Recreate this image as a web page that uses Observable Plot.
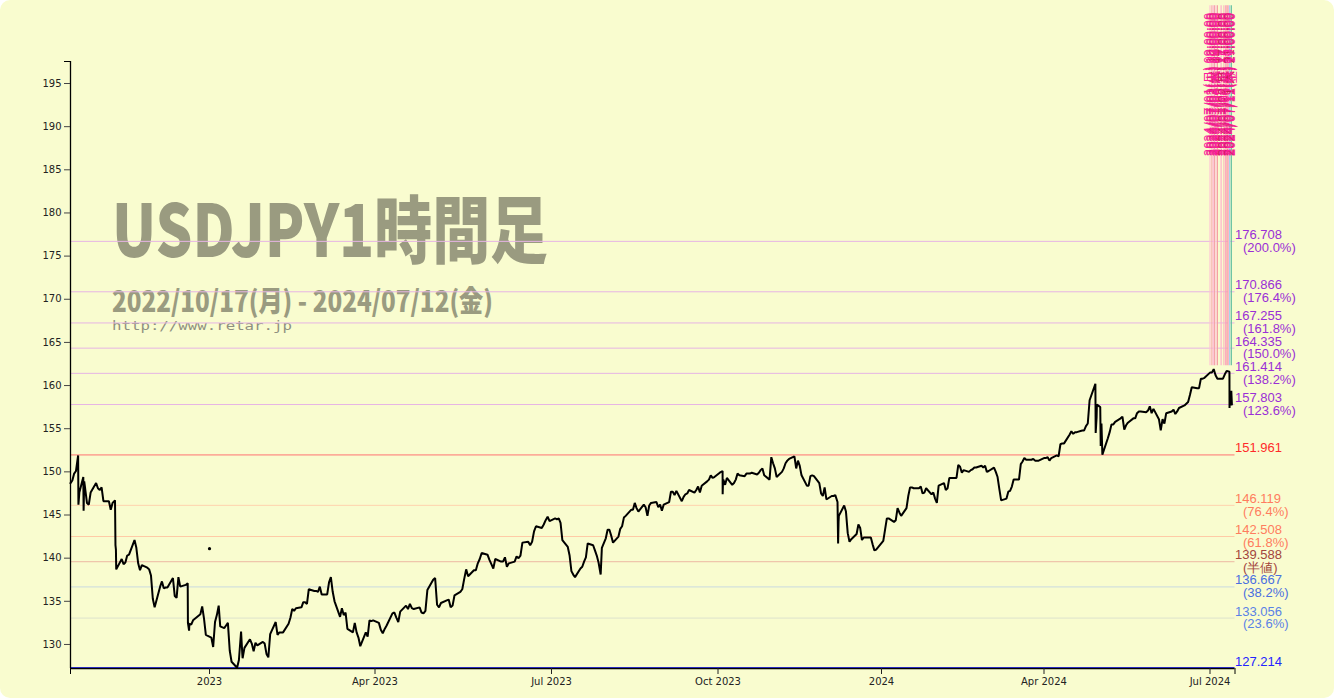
<!DOCTYPE html>
<html><head><meta charset="utf-8">
<script src="https://cdn.jsdelivr.net/npm/d3@7"></script>
<script src="https://cdn.jsdelivr.net/npm/@observablehq/plot@0.6"></script>
<style>
html,body{margin:0;padding:0;background:#ffffff;}
#chart{position:relative;width:1334px;height:698px;background:#f9fccf;border-radius:10px;overflow:hidden;}
</style></head><body><div id="chart"></div>
<script>
// ---- data ----
const priceData = [
["2022-10-17",148.7],["2022-10-18",149.0],["2022-10-19",149.8],["2022-10-20",150.1],["2022-10-21T04:00",151.9],["2022-10-21T08:00",146.2],["2022-10-21T20:00",147.6],["2022-10-24T00:00",149.4],["2022-10-24T04:00",145.5],["2022-10-24T12:00",148.9],["2022-10-25",148.1],["2022-10-26",146.4],["2022-10-27",146.2],["2022-10-28",147.6],["2022-10-31",148.7],["2022-11-01",148.1],["2022-11-02",147.9],["2022-11-03",148.2],["2022-11-04",146.6],["2022-11-07",146.6],["2022-11-08",145.6],["2022-11-09",146.4],["2022-11-10T08:00",146.7],["2022-11-10T14:00",141.5],["2022-11-10T20:00",141.0],["2022-11-11",138.7],["2022-11-14",139.9],["2022-11-15",139.3],["2022-11-16",139.5],["2022-11-17",140.3],["2022-11-18",140.4],["2022-11-21",142.1],["2022-11-22",141.2],["2022-11-23",139.4],["2022-11-24",138.6],["2022-11-25",139.2],["2022-11-28",138.9],["2022-11-29",138.7],["2022-11-30",138.0],["2022-12-01",135.3],["2022-12-02",134.3],["2022-12-05",136.7],["2022-12-06",137.3],["2022-12-07",136.5],["2022-12-08",136.6],["2022-12-09",136.6],["2022-12-12",137.7],["2022-12-13",135.6],["2022-12-14",135.4],["2022-12-15",137.8],["2022-12-16",136.7],["2022-12-19",136.9],["2022-12-20T02:00",137.1],["2022-12-20T05:00",132.5],["2022-12-20T20:00",131.6],["2022-12-21",132.4],["2022-12-22",132.3],["2022-12-23",132.8],["2022-12-27",133.5],["2022-12-28",134.4],["2022-12-29",133.0],["2022-12-30",131.1],
["2023-01-02",130.8],["2023-01-03",129.7],["2023-01-04",132.6],["2023-01-05",133.4],["2023-01-06",134.5],["2023-01-06T20:00",132.1],["2023-01-09",131.9],["2023-01-10",132.2],["2023-01-11",132.5],["2023-01-12",129.3],["2023-01-13",128.0],["2023-01-16",127.3],["2023-01-17",128.2],["2023-01-18T04:00",131.5],["2023-01-18T20:00",128.9],["2023-01-19",128.4],["2023-01-20",129.6],["2023-01-23",130.6],["2023-01-24",130.1],["2023-01-25",129.2],["2023-01-26",130.2],["2023-01-27",129.9],["2023-01-30",130.3],["2023-01-31",130.1],["2023-02-01",128.9],["2023-02-02",128.5],["2023-02-03",131.2],["2023-02-06",132.6],["2023-02-07",131.1],["2023-02-08",131.4],["2023-02-09",131.4],["2023-02-10",131.4],["2023-02-13",132.4],["2023-02-14",133.1],["2023-02-15",134.1],["2023-02-16",133.9],["2023-02-17",134.2],["2023-02-20",134.3],["2023-02-21",134.9],["2023-02-22",134.9],["2023-02-23",134.7],["2023-02-24",136.4],["2023-02-27",136.2],["2023-02-28",136.2],["2023-03-01",136.1],["2023-03-02",136.7],["2023-03-03",135.8],["2023-03-06",135.8],["2023-03-07",137.2],["2023-03-08",137.8],["2023-03-09",136.1],["2023-03-10",135.0],["2023-03-13",133.2],["2023-03-14",134.2],["2023-03-15",133.4],["2023-03-16",133.7],["2023-03-17",131.8],["2023-03-20",131.4],["2023-03-21",132.5],["2023-03-22",131.4],["2023-03-23",130.8],["2023-03-24",129.8],["2023-03-27",131.4],["2023-03-28",130.9],["2023-03-29",132.8],["2023-03-30",132.7],["2023-03-31",132.8],
["2023-04-03",132.5],["2023-04-04",131.7],["2023-04-05",131.3],["2023-04-06",131.8],["2023-04-07",132.2],["2023-04-10",133.6],["2023-04-11",133.7],["2023-04-12",133.1],["2023-04-13",132.6],["2023-04-14",133.8],["2023-04-17",134.5],["2023-04-18",134.1],["2023-04-19",134.7],["2023-04-20",134.2],["2023-04-21",134.1],["2023-04-24",134.3],["2023-04-25",133.7],["2023-04-26",133.6],["2023-04-27",133.9],["2023-04-28",136.3],["2023-05-01",137.5],["2023-05-02",137.7],["2023-05-03",134.6],["2023-05-04",134.3],["2023-05-05",134.8],["2023-05-08",135.1],["2023-05-09",135.2],["2023-05-10",134.3],["2023-05-11",134.5],["2023-05-12",135.7],["2023-05-15",136.1],["2023-05-16",136.4],["2023-05-17",137.6],["2023-05-18",138.7],["2023-05-19",137.9],["2023-05-22",138.6],["2023-05-23",138.6],["2023-05-24",139.4],["2023-05-25",139.9],["2023-05-26",140.6],["2023-05-29",140.4],["2023-05-30",139.8],["2023-05-31",139.3],["2023-06-01",138.8],["2023-06-02",139.9],["2023-06-05",139.6],["2023-06-06",139.6],["2023-06-07",140.1],["2023-06-08",139.0],["2023-06-09",139.4],["2023-06-12",139.6],["2023-06-13",140.2],["2023-06-14",140.0],["2023-06-15",140.3],["2023-06-16",141.8],["2023-06-19",141.9],["2023-06-20",141.5],["2023-06-21",141.9],["2023-06-22",143.1],["2023-06-23",143.7],["2023-06-26",143.5],["2023-06-27",143.9],["2023-06-28",144.4],["2023-06-29",144.8],["2023-06-30",144.3],["2023-07-03",144.6],["2023-07-04",144.5],["2023-07-05",144.6],["2023-07-06",144.1],["2023-07-07",142.1],["2023-07-10",141.3],["2023-07-11",140.3],["2023-07-12",138.5],["2023-07-13",138.1],["2023-07-14",137.8],["2023-07-17",138.8],["2023-07-18",139.0],["2023-07-19",139.6],["2023-07-20",140.1],["2023-07-21",141.7],["2023-07-24",141.5],["2023-07-25",140.9],["2023-07-26",140.3],["2023-07-27",139.5],["2023-07-28T04:00",138.1],["2023-07-28T20:00",141.2],["2023-07-31",142.3],["2023-08-01",143.3],["2023-08-02",143.3],["2023-08-03",142.6],["2023-08-04",141.8],["2023-08-07",142.5],["2023-08-08",143.4],["2023-08-09",143.7],["2023-08-10",144.7],["2023-08-11",144.9],["2023-08-14",145.6],["2023-08-15",145.6],["2023-08-16",146.4],["2023-08-17",145.8],["2023-08-18",145.4],["2023-08-21",146.2],["2023-08-22",145.9],["2023-08-23",144.9],["2023-08-24",146.1],["2023-08-25",146.4],["2023-08-28",146.5],["2023-08-29",145.9],["2023-08-30",146.2],["2023-08-31",145.5],["2023-09-01",146.2],["2023-09-04",146.5],["2023-09-05",147.7],["2023-09-06",147.7],["2023-09-07",147.3],["2023-09-08",147.8],["2023-09-11",146.6],["2023-09-12",147.1],["2023-09-13",147.4],["2023-09-14",147.5],["2023-09-15",147.9],["2023-09-18",147.6],["2023-09-19",147.9],["2023-09-20",148.3],["2023-09-21",147.6],["2023-09-22",148.4],["2023-09-25",148.9],["2023-09-26",149.1],["2023-09-27",149.6],["2023-09-28",149.3],["2023-09-29",149.4],
["2023-10-02",149.9],["2023-10-03T14:00",150.1],["2023-10-03T15:00",147.4],["2023-10-03T20:00",149.0],["2023-10-04",149.1],["2023-10-05",148.5],["2023-10-06",149.3],["2023-10-09",148.5],["2023-10-10",148.7],["2023-10-11",149.1],["2023-10-12",149.8],["2023-10-13",149.6],["2023-10-16",149.5],["2023-10-17",149.8],["2023-10-18",149.8],["2023-10-19",149.8],["2023-10-20",149.9],["2023-10-23",149.7],["2023-10-24",149.9],["2023-10-25",150.2],["2023-10-26",150.4],["2023-10-27",149.6],["2023-10-30",149.1],["2023-10-31",151.7],["2023-11-01",151.0],["2023-11-02",150.4],["2023-11-03",149.4],["2023-11-06",150.0],["2023-11-07",150.4],["2023-11-08",151.0],["2023-11-09",151.3],["2023-11-10",151.5],["2023-11-13",151.8],["2023-11-14",150.4],["2023-11-15",151.3],["2023-11-16",150.7],["2023-11-17",149.6],["2023-11-20",148.4],["2023-11-21",148.4],["2023-11-22",149.5],["2023-11-23",149.6],["2023-11-24",149.5],["2023-11-27",148.7],["2023-11-28",147.5],["2023-11-29",147.2],["2023-11-30",148.2],["2023-12-01",146.8],["2023-12-04",147.2],["2023-12-05",147.2],["2023-12-06",147.3],["2023-12-07T06:00",146.5],["2023-12-07T14:00",141.7],["2023-12-07T20:00",144.2],["2023-12-08",144.9],["2023-12-11",146.1],["2023-12-12",145.4],["2023-12-13",142.9],["2023-12-14",141.9],["2023-12-15",142.2],["2023-12-18",142.8],["2023-12-19",143.9],["2023-12-20",143.5],["2023-12-21",142.1],["2023-12-22",142.4],["2023-12-26",142.4],["2023-12-27",141.6],["2023-12-28",140.9],["2023-12-29",141.0],
["2024-01-02",142.0],["2024-01-03",143.3],["2024-01-04",144.6],["2024-01-05",144.6],["2024-01-08",144.2],["2024-01-09",144.4],["2024-01-10",145.8],["2024-01-11",145.3],["2024-01-12",144.9],["2024-01-15",145.8],["2024-01-16",147.2],["2024-01-17",148.2],["2024-01-18",148.2],["2024-01-19",148.1],["2024-01-22",148.1],["2024-01-23",148.3],["2024-01-24",147.5],["2024-01-25",147.6],["2024-01-26",148.1],["2024-01-29",147.4],["2024-01-30",147.6],["2024-01-31",146.9],["2024-02-01",146.4],["2024-02-02",148.4],["2024-02-05",148.7],["2024-02-06",147.9],["2024-02-07",148.1],["2024-02-08",149.3],["2024-02-09",149.3],["2024-02-12",149.3],["2024-02-13",150.8],["2024-02-14",150.6],["2024-02-15",149.9],["2024-02-16",150.2],["2024-02-19",150.0],["2024-02-20",150.2],["2024-02-21",150.3],["2024-02-22",150.5],["2024-02-23",150.5],["2024-02-26",150.7],["2024-02-27",150.5],["2024-02-28",150.7],["2024-02-29",150.0],["2024-03-01",150.1],["2024-03-04",150.5],["2024-03-05",150.0],["2024-03-06",149.4],["2024-03-07",148.0],["2024-03-08",146.7],["2024-03-11",146.9],["2024-03-12",147.7],["2024-03-13",147.8],["2024-03-14",148.3],["2024-03-15",149.1],["2024-03-18",149.1],["2024-03-19",150.9],["2024-03-20",151.2],["2024-03-21",151.6],["2024-03-22",151.4],["2024-03-25",151.4],["2024-03-26",151.5],["2024-03-27",151.3],["2024-03-28",151.3],["2024-03-29",151.3],
["2024-04-01",151.6],["2024-04-02",151.6],["2024-04-03",151.7],["2024-04-04",151.3],["2024-04-05",151.6],["2024-04-08",151.9],["2024-04-09",151.8],["2024-04-10",153.2],["2024-04-11",153.3],["2024-04-12",153.3],["2024-04-15",154.3],["2024-04-16",154.7],["2024-04-17",154.4],["2024-04-18",154.6],["2024-04-19",154.6],["2024-04-22",154.8],["2024-04-23",154.8],["2024-04-24",155.3],["2024-04-25",155.6],["2024-04-26",158.3],["2024-04-29T04:00",160.2],["2024-04-29T08:00",154.5],["2024-04-29T20:00",156.3],["2024-04-30",157.8],["2024-05-01T20:00",157.5],["2024-05-02T02:00",153.0],["2024-05-02T12:00",155.6],["2024-05-03",152.0],["2024-05-06",153.9],["2024-05-07",154.6],["2024-05-08",155.5],["2024-05-09",155.5],["2024-05-10",155.8],["2024-05-13",156.2],["2024-05-14",156.4],["2024-05-15",154.9],["2024-05-16",155.4],["2024-05-17",155.7],["2024-05-20",156.2],["2024-05-21",156.2],["2024-05-22",156.8],["2024-05-23",157.0],["2024-05-24",157.0],["2024-05-27",156.9],["2024-05-28",157.1],["2024-05-29",157.6],["2024-05-30",156.8],["2024-05-31",157.3],["2024-06-03",156.1],["2024-06-04",154.8],["2024-06-05",156.1],["2024-06-06",155.6],["2024-06-07",156.8],["2024-06-10",157.0],["2024-06-11",157.2],["2024-06-12",156.7],["2024-06-13",157.0],["2024-06-14",157.4],["2024-06-17",157.7],["2024-06-18",157.9],["2024-06-19",158.1],["2024-06-20",158.9],["2024-06-21",159.8],["2024-06-24",159.7],["2024-06-25",159.7],["2024-06-26",160.8],["2024-06-27",160.8],["2024-06-28",160.9],["2024-07-01",161.5],["2024-07-02",161.5],["2024-07-03",161.9],["2024-07-04",161.2],["2024-07-05",160.8],["2024-07-08",160.8],["2024-07-09",161.3],["2024-07-10",161.7],["2024-07-11T12:00",161.6],["2024-07-11T13:00",157.4],["2024-07-11T20:00",158.9],["2024-07-12T04:00",157.7],["2024-07-12T12:00",159.4],["2024-07-12T20:00",157.8]
];
const strayPoint = [["2023-01-01T00:00",141.1]];

const fibLevels = [176.708,170.866,167.255,164.335,161.414,157.803,151.961,146.119,142.508,139.588,136.667,133.056,127.214];
const fibRatios = ["(200.0%)","(176.4%)","(161.8%)","(150.0%)","(138.2%)","(123.6%)","","(76.4%)","(61.8%)","(半値)","(38.2%)","(23.6%)",""];
const fibTextColors = ["#9a2fd6","#9a2fd6","#9a2fd6","#9a2fd6","#9a2fd6","#9a2fd6","#ff2a2a","#ff7d5e","#ff7d5e","#a3453d","#4a6fe0","#5a82e6","#2424ff"];
const fibLineColors = ["#e6b4e4","#e6b4e4","#e6b4e4","#e6b4e4","#e6b4e4","#e6b4e4","#ff7272","#ffd3ae","#ffcaa6","#ecb8a4","#cad9e0","#dde2cc","#3a3aff"];

const markerDates = ["2024-07-01T00:00","2024-07-02T00:00","2024-07-02T18:00","2024-07-03T12:00","2024-07-04T06:00","2024-07-05T00:00","2024-07-07T00:00","2024-07-08T12:00","2024-07-09T12:00","2024-07-10T06:00","2024-07-11T00:00","2024-07-11T14:00","2024-07-12T12:00"];
const markerLabels = ["2024/07/01(月) 09:00:00","2024/07/02(火) 10:00:00","2024/07/02(火) 22:00:00","2024/07/03(水) 16:00:00","2024/07/04(木) 09:00:00","2024/07/05(金) 04:00:00","2024/07/05(金) 21:00:00","2024/07/08(月) 17:00:00","2024/07/09(火) 15:00:00","2024/07/10(水) 11:00:00","2024/07/11(木) 06:00:00","2024/07/11(木) 21:00:00","2024/07/12(金) 17:00:00"];
const markerLineColors = ["#ffc4d6","#f7b2b2","#ffb8d8","#f2a6a6","#ffd0e0","#f4a2a2","#ffb0cc","#f8bcbc","#ff9cc0","#f0a0a0","#ffb4c8","#a8d8e8","#5fbf9f"];
const markerTextColors = ["#ff1aa0","#e8308a","#ff1aa0","#d02060","#ff1aa0","#e8308a","#ff1aa0","#d02060","#ff1aa0","#e8308a","#ff1aa0","#c02050","#ff1aa0"];

const yTicks = [130,135,140,145,150,155,160,165,170,175,180,185,190,195];
const xTickDates = ["2023-01-01","2023-04-01","2023-07-01","2023-10-01","2024-01-01","2024-04-01","2024-07-01"];
const xTickLabels = ["2023","Apr 2023","Jul 2023","Oct 2023","2024","Apr 2024","Jul 2024"];

const titleText = "USDJPY1時間足";
const subtitleText = "2022/10/17(月) - 2024/07/12(金)";
const urlText = "http://www.retar.jp";

// ---- build ----
const parse = s => new Date(s.length === 10 ? s + "T00:00:00Z" : s + ":00Z");
const prices = priceData.map(([d, v]) => ({date: parse(d), v}));
const stray = strayPoint.map(([d, v]) => ({date: parse(d), v}));
const fibs = fibLevels.map((v, i) => ({v, ratio: fibRatios[i], tc: fibTextColors[i], lc: fibLineColors[i]}));
const markers = markerDates.map((d, i) => ({date: parse(d), label: markerLabels[i], lc: markerLineColors[i], tc: markerTextColors[i]}));
const xTicks = xTickDates.map(parse);
const xLab = new Map(xTicks.map((d, i) => [+d, xTickLabels[i]]));

const xStart = parse("2022-10-17"), xEnd = parse("2024-07-14T12:00");
const yDomain = [127.214, 197.55];

const plot = Plot.plot({
  width: 1334, height: 698,
  marginLeft: 70, marginRight: 99.5, marginTop: 61, marginBottom: 30,
  style: {background: "transparent", fontFamily: "DejaVu Sans, sans-serif", fontSize: "10px", color: "#222"},
  x: {type: "utc", domain: [xStart, ...xTicks, xEnd], range: [70, 209, 374.5, 551, 717.5, 881, 1043.5, 1209.5, 1234.5]},
  y: {domain: yDomain},
  color: {type: "identity"},
  marks: [
    Plot.ruleY(fibs, {y: "v", stroke: "lc", strokeWidth: 1}),
    Plot.ruleX(markers, {x: "date", y1: 162.3, y2: 204, stroke: "lc", strokeWidth: 1.2}),
    Plot.text(markers, {x: "date", y: 186.6, text: "label", rotate: -90, textAnchor: "start", fill: "tc", fontSize: 13, fontFamily: "Noto Sans CJK JP, sans-serif"}),
    Plot.line(prices, {x: "date", y: "v", stroke: "#000", strokeWidth: 2, strokeLinejoin: "miter"}),
    Plot.dot(stray, {x: "date", y: "v", r: 1.6, fill: "#000"}),
    Plot.text(fibs, {x: () => xEnd, y: "v", text: d => d.v.toFixed(3), fill: "tc", textAnchor: "start", lineAnchor: "bottom", dy: -2.5, fontSize: 13, fontFamily: "Liberation Sans, Arial, sans-serif"}),
    Plot.text(fibs.filter(d => d.ratio), {x: () => xEnd, y: "v", text: "ratio", fill: "tc", textAnchor: "start", lineAnchor: "top", dx: 8, dy: 1, fontSize: 13, fontFamily: "Liberation Sans, Arial, sans-serif"}),
    Plot.ruleY([yDomain[0]], {stroke: "#000", strokeWidth: 1.3}),
    Plot.ruleX([xStart], {stroke: "#000", strokeWidth: 1.3}),
    Plot.axisY({ticks: yTicks, tickSize: 6, tickPadding: 3, label: null, fontSize: 10, stroke: "#444"}),
    Plot.axisY({ticks: [yDomain[1]], tickSize: 6, tickFormat: () => "", label: null, stroke: "#000"}),
    Plot.axisX({ticks: xTicks, tickFormat: d => xLab.get(+d), tickSize: 6, tickPadding: 3, label: null, fontSize: 10, stroke: "#222"}),
    Plot.axisX({ticks: [xStart, xEnd], tickSize: 6, tickFormat: () => "", label: null, stroke: "#000"})
  ]
});

// blue bottom line sits 1px above the axis line
d3.select(plot).selectAll("g[aria-label='rule']").filter((d, i) => i === 0).selectAll("line").filter((d, i) => i === fibs.length - 1).attr("transform", "translate(0,-1)");

// watermark title (drawn under all marks)
const svg = d3.select(plot);
const g = svg.insert("g", "g").attr("fill", "#9a9b80").attr("text-anchor", "start");
g.append("text").text(titleText).attr("x", 112).attr("y", 257)
  .attr("font-family", "Noto Sans CJK JP, sans-serif").attr("font-weight", 900).attr("font-size", 73)
  .attr("textLength", 436).attr("lengthAdjust", "spacingAndGlyphs");
g.append("text").text(subtitleText).attr("x", 112).attr("y", 312)
  .attr("font-family", "Noto Sans CJK JP, sans-serif").attr("font-weight", 900).attr("font-size", 29)
  .attr("textLength", 381).attr("lengthAdjust", "spacingAndGlyphs");
g.append("text").text(urlText).attr("x", 112).attr("y", 330)
  .attr("font-family", "DejaVu Sans Mono, monospace").attr("font-size", 12.5).attr("fill", "#8f9080")
  .attr("textLength", 180).attr("lengthAdjust", "spacingAndGlyphs");

document.getElementById("chart").appendChild(plot);
</script></body></html>
